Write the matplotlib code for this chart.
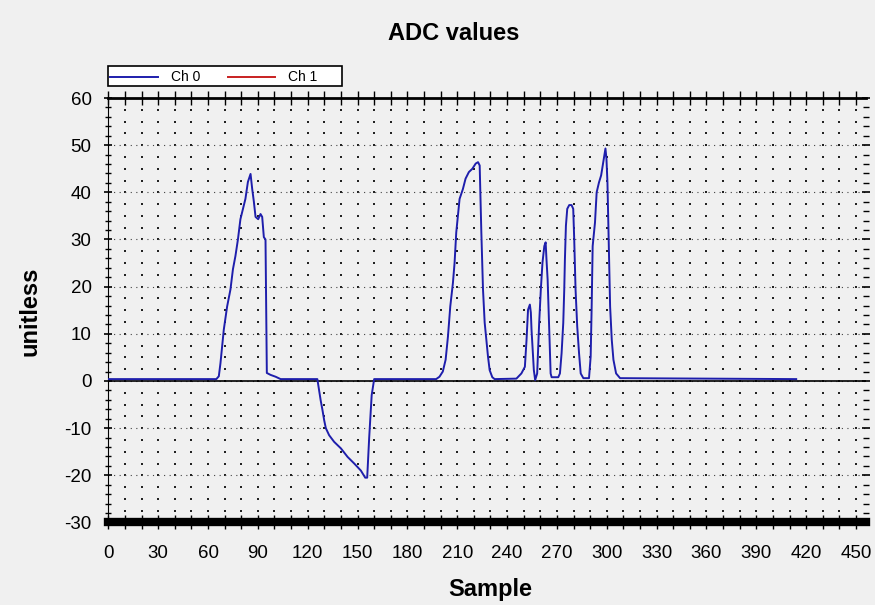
import numpy as np
import matplotlib
matplotlib.use("Agg")
from matplotlib import pyplot as plt
from matplotlib.patches import Rectangle
from matplotlib.ticker import MultipleLocator

# traced ADC samples for Ch 0 (Ch 1 carries no visible data)
sample = [0, 65, 66.5, 67.5, 69.5, 71.5, 73.5, 75, 76.5, 78, 79.5, 81, 82.5, 84,
          85.6, 86.6, 87.6, 88.6, 90.2, 91.6, 92.6, 93.6, 94.6, 95.4, 97.6,
          100.7, 103.7,
          125.8, 126.8, 127.8, 128.9, 129.9, 130.9, 132.9, 135.9, 140, 144, 148,
          152, 154.6, 155.8, 157, 158.5, 160,
          197.3, 199.3, 201.3, 203, 204.4, 205.8, 207.4, 208.4, 209.4, 210.4,
          211.4, 213.4, 215, 217, 219.1, 221.1, 222.5, 223.5, 224.5, 225.5,
          226.5, 227.5, 228.5, 229.5, 231.1, 232.5,
          245.6, 248.6, 250.7, 251.7, 252.6, 253.7, 254.3, 254.7, 255.3, 256.1,
          256.9, 258.1, 259.3, 260.3, 261.3, 262.4, 263.2, 263.7, 264.4, 265.4,
          266.2, 266.8, 270.8, 271.8, 272.8, 273.8, 274.4, 274.8, 275.4, 276.2,
          277.4, 278.8, 279.8, 280.4, 281.2, 282.2, 283.3, 284.3, 285.9,
          289.3, 290.3, 290.9, 291.5, 292.9, 293.9, 295.3, 296.6, 297.9, 299.2,
          299.8, 300.4, 301.2, 302, 303, 304, 305.6, 308, 414]
ch0 = [0.4, 0.4, 1.0, 3.8, 10.9, 15.8, 19.4, 23.7, 26.5, 30.0, 34.3, 36.5, 38.6,
       42.2, 43.9, 40.7, 38.0, 34.8, 34.3, 35.4, 34.8, 30.5, 30.0, 1.7, 1.3,
       0.9, 0.4,
       0.4, -1.9, -4.1, -6.2, -8.3, -10.0, -11.5, -12.9, -14.3, -16.1, -17.5,
       -19.0, -20.5, -20.5, -12.0, -3.0, 0.4,
       0.4, 0.9, 2.0, 4.5, 9.4, 15.8, 20.8, 25.1, 31.5, 35.0, 38.6, 40.7, 42.9,
       44.3, 45.0, 46.1, 46.4, 45.7, 31.5, 19.4, 12.4, 8.7, 5.2, 2.3, 0.8, 0.4,
       0.5, 1.6, 3.0, 8.7, 15.1, 16.2, 14.5, 10.9, 7.3, 2.3, 0.2, 1.6, 12.3,
       19.4, 25.1, 28.6, 29.4, 25.8, 21.5, 10.2, 1.6, 0.8, 0.8, 1.6, 5.9, 12.3,
       19.4, 25.8, 32.9, 36.5, 37.3, 37.3, 36.5, 30.0, 19.4, 11.6, 5.9, 1.6,
       0.6, 0.6, 5.2, 15.8, 28.6, 33.6, 40.0, 42.1, 43.6, 46.4, 49.3, 47.1,
       42.1, 28.6, 15.8, 8.7, 4.5, 1.6, 0.6, 0.4]
ch1_sample = []
ch1 = []

bg = "#f0f0f0"
plt.rcParams["font.family"] = ["Liberation Sans", "DejaVu Sans"]
plt.rcParams["axes.unicode_minus"] = False

fig = plt.figure(figsize=(8.75, 6.05), dpi=100, facecolor=bg)
ax = fig.add_axes([0.1238, 0.1364, 0.9897 - 0.1238, 0.838 - 0.1364])
ax.set_facecolor(bg)
ax.set_xlim(0, 456)
ax.set_ylim(-30, 60)

# dotted background grid
gx, gy = np.meshgrid(np.arange(10, 456, 10), np.arange(-27.5, 60, 2.5))
ax.scatter(gx.ravel(), gy.ravel(), s=1.2, marker="s", color="#222222",
           linewidths=0, zorder=0)
ax.yaxis.grid(True, which="major", linestyle=(0, (1, 4)), color="#444444",
              linewidth=0.8)

ax.axhline(0, color="black", linewidth=1.2, zorder=2)
l0, = ax.plot(sample, ch0, color="#1e1eac", linewidth=1.4, zorder=3)
l1, = ax.plot(ch1_sample, ch1, color="#c82020", linewidth=1.4, zorder=3)

ax.xaxis.set_major_locator(MultipleLocator(30))
ax.xaxis.set_minor_locator(MultipleLocator(10))
ax.yaxis.set_major_locator(MultipleLocator(10))
ax.yaxis.set_minor_locator(MultipleLocator(2))

for side in ["left", "top", "bottom", "right"]:
    ax.spines[side].set_color("black")
ax.spines["bottom"].set_linewidth(6)
ax.spines["top"].set_linewidth(2)
ax.spines["left"].set_linewidth(0.8)
ax.spines["right"].set_visible(False)

ax.tick_params(axis="x", which="both", direction="inout", length=10, width=1,
               top=True, labelsize=13.5, pad=11)
ax.tick_params(axis="y", which="major", direction="inout", length=6, width=1.2,
               right=True, labelsize=13.5, pad=9)
ax.tick_params(axis="y", which="minor", direction="inout", length=4, width=1,
               right=True)

fig.text(0.519, 0.945, "ADC values", ha="center", va="center",
         fontsize=17, fontweight="bold")
fig.text(0.034, 0.486, "unitless", ha="center", va="center", rotation=90,
         fontsize=17, fontweight="bold")
fig.text(0.56, 0.026, "Sample", ha="center", va="center",
         fontsize=17, fontweight="bold")

# legend box drawn separately so it keeps the wide white frame
fig.add_artist(Rectangle((108 / 875, 519 / 605), 234 / 875, 20 / 605,
                         transform=fig.transFigure, facecolor="white",
                         edgecolor="black", linewidth=1.2, zorder=-1))
ax.legend([l0, l1], ["Ch 0", "Ch 1"], loc="lower left",
          bbox_to_anchor=(0.0, 1.027), ncol=2, fontsize=10, frameon=False,
          handlelength=3.4, columnspacing=2.0, borderpad=0.15,
          handletextpad=0.95, borderaxespad=0)

fig.savefig("out.png", dpi=100, facecolor=bg)
